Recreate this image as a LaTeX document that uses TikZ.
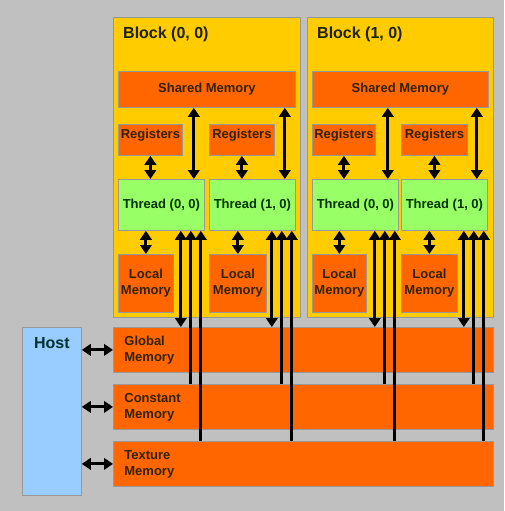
\documentclass[tikz,border=0pt]{standalone}
\usepackage{fontspec}
\setmainfont{Liberation Sans}
\usetikzlibrary{arrows.meta,positioning}

\definecolor{bggray}{HTML}{C0C0C0}
\definecolor{boxline}{HTML}{999999}
\definecolor{blockyellow}{HTML}{FFCC00}
\definecolor{memorange}{HTML}{FF6600}
\definecolor{threadgreen}{HTML}{99FF66}
\definecolor{hostblue}{HTML}{99CCFF}
\definecolor{blocktext}{HTML}{1F2200}
\definecolor{memtext}{HTML}{332200}
\definecolor{threadtext}{HTML}{003300}
\definecolor{hosttext}{HTML}{003333}

\begin{document}
\begin{tikzpicture}[x=1pt, y=-1pt, >={Triangle[width=11.5pt,length=9pt]},
    box/.style={draw=boxline, line width=0.8pt, inner sep=0pt, anchor=north west,
                font=\bfseries\fontsize{13}{16}\selectfont, text=memtext},
    block/.style={box, fill=blockyellow},
    mem/.style={box, fill=memorange, align=center},
    reg/.style={mem, text height=13.7pt, text depth=17.3pt},
    thread/.style={box, fill=threadgreen, text=threadtext, minimum width=86pt, minimum height=51pt},
    bigmem/.style={box, fill=memorange, align=left, inner xsep=11pt, text width=358pt, minimum height=45pt},
    title/.style={inner sep=0pt, font=\bfseries\fontsize{16}{19}\selectfont},
    link/.style={line width=3pt}]

  \fill[bggray] (0,0) rectangle (504,511);

  % block (0, 0)
  \node[block, minimum width=187pt, minimum height=300pt] (blk0) at (113,17) {};
  \node[title, text=blocktext]   (blk0lbl) [below right=10pt and 10pt of blk0.north west] {Block (0, 0)};
  \node[mem, minimum width=177pt, minimum height=36pt] (sh0) at (118,71) {Shared Memory};
  \node[reg, minimum width=64pt]  (r00) at (118,124) {Registers};
  \node[reg, minimum width=65pt]  (r01) at (209,124) {Registers};
  \node[thread]                   (t00) at (118,179) {Thread (0, 0)};
  \node[thread]                   (t01) at (209,179) {Thread (1, 0)};
  \node[mem, minimum width=55pt, minimum height=58pt] (l00) at (118,254) {Local\\Memory};
  \node[mem, minimum width=57pt, minimum height=58pt] (l01) at (209,254) {Local\\Memory};

  % block (1, 0)
  \node[block, minimum width=186pt, minimum height=300pt] (blk1) at (307,17) {};
  \node[title, text=blocktext]   (blk1lbl) [below right=10pt and 10pt of blk1.north west] {Block (1, 0)};
  \node[mem, minimum width=176pt, minimum height=36pt] (sh1) at (312,71) {Shared Memory};
  \node[reg, minimum width=63pt]  (r10) at (312,124) {Registers};
  \node[reg, minimum width=66pt]  (r11) at (401,124) {Registers};
  \node[thread]                   (t10) at (312,179) {Thread (0, 0)};
  \node[thread]                   (t11) at (401,179) {Thread (1, 0)};
  \node[mem, minimum width=54pt, minimum height=58pt] (l10) at (312,254) {Local\\Memory};
  \node[mem, minimum width=56pt, minimum height=58pt] (l11) at (401,254) {Local\\Memory};

  % host and device memories
  \node[box, fill=hostblue, minimum width=59pt, minimum height=168pt] (host) at (22,327) {};
  \node[title, text=hosttext]    (hostlbl) [below=10pt of host.north] {Host};
  \node[bigmem]                  (gmem) at (113,327) {Global\\Memory};
  \node[bigmem]                  (cmem) at (113,384) {Constant\\Memory};
  \node[bigmem]                  (tmem) at (113,441) {Texture\\Memory};

  \draw[link, <->] (host.east |- gmem.west) -- (gmem.west);
  \draw[link, <->] (host.east |- cmem.west) -- (cmem.west);
  \draw[link, <->] (host.east |- tmem.west) -- (tmem.west);

  % threads of block (0, 0)
  \draw[link, <->] (r00.south) -- (r00.south |- t00.north);
  \draw[link, <->] (r01.south) -- (r01.south |- t01.north);
  \draw[link, <->] ([xshift=-11pt]t00.north east) -- ([xshift=-11pt]t00.north east |- sh0.south);
  \draw[link, <->] ([xshift=-11pt]t01.north east) -- ([xshift=-11pt]t01.north east |- sh0.south);
  \draw[link, <->] (l00.north) -- (l00.north |- t00.south);
  \draw[link, <->] (l01.north) -- (l01.north |- t01.south);
  \draw[link, <->] ([xshift=-24pt]t00.south east) -- ([xshift=-24pt]t00.south east |- gmem.north);
  \draw[link, <-]  ([xshift=-14pt]t00.south east) -- ([xshift=-14pt]t00.south east |- cmem.north);
  \draw[link, <-]  ([xshift=-4pt]t00.south east)  -- ([xshift=-4pt]t00.south east |- tmem.north);
  \draw[link, <->] ([xshift=-24pt]t01.south east) -- ([xshift=-24pt]t01.south east |- gmem.north);
  \draw[link, <-]  ([xshift=-14pt]t01.south east) -- ([xshift=-14pt]t01.south east |- cmem.north);
  \draw[link, <-]  ([xshift=-4pt]t01.south east)  -- ([xshift=-4pt]t01.south east |- tmem.north);

  % threads of block (1, 0)
  \draw[link, <->] (r10.south) -- (r10.south |- t10.north);
  \draw[link, <->] (r11.south) -- (r11.south |- t11.north);
  \draw[link, <->] ([xshift=-11pt]t10.north east) -- ([xshift=-11pt]t10.north east |- sh1.south);
  \draw[link, <->] ([xshift=-11pt]t11.north east) -- ([xshift=-11pt]t11.north east |- sh1.south);
  \draw[link, <->] (l10.north) -- (l10.north |- t10.south);
  \draw[link, <->] (l11.north) -- (l11.north |- t11.south);
  \draw[link, <->] ([xshift=-24pt]t10.south east) -- ([xshift=-24pt]t10.south east |- gmem.north);
  \draw[link, <-]  ([xshift=-14pt]t10.south east) -- ([xshift=-14pt]t10.south east |- cmem.north);
  \draw[link, <-]  ([xshift=-4pt]t10.south east)  -- ([xshift=-4pt]t10.south east |- tmem.north);
  \draw[link, <->] ([xshift=-24pt]t11.south east) -- ([xshift=-24pt]t11.south east |- gmem.north);
  \draw[link, <-]  ([xshift=-14pt]t11.south east) -- ([xshift=-14pt]t11.south east |- cmem.north);
  \draw[link, <-]  ([xshift=-4pt]t11.south east)  -- ([xshift=-4pt]t11.south east |- tmem.north);
\end{tikzpicture}
\end{document}
